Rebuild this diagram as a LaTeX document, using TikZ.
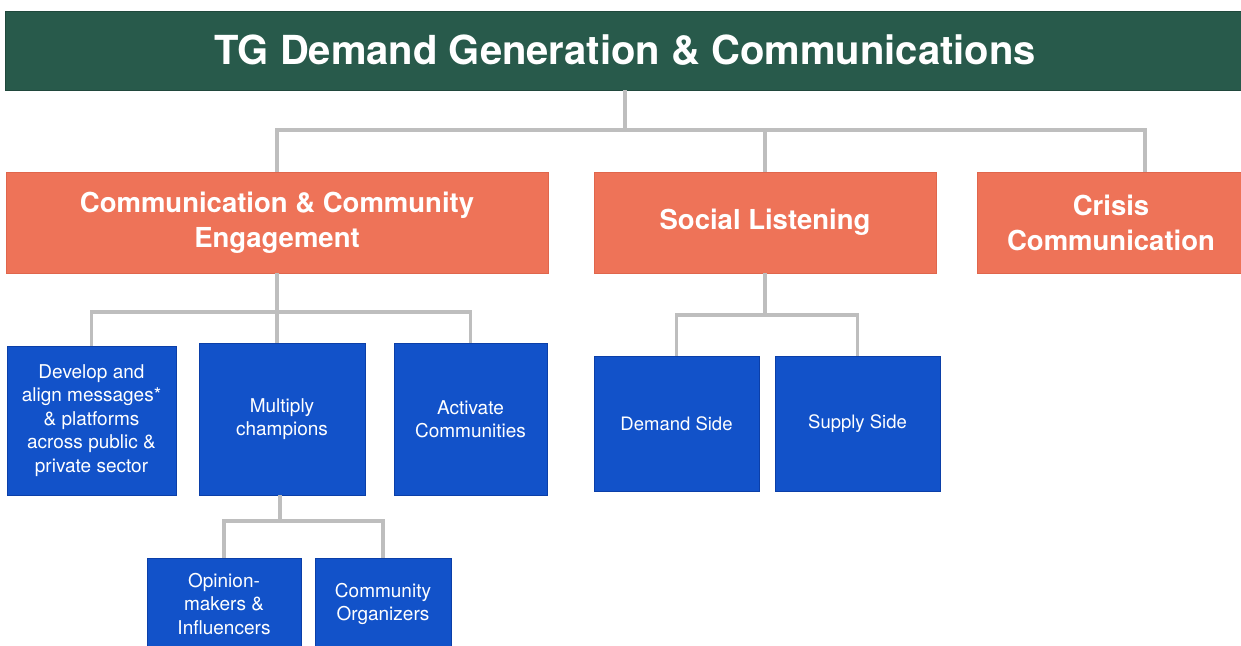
\documentclass[tikz,border=0pt]{standalone}
\usepackage{fontspec}
\setmainfont{TeX Gyre Heros}
\definecolor{dkgreen}{HTML}{285A4B}
\definecolor{salmon}{HTML}{EE7358}
\definecolor{salmonedge}{HTML}{E0664C}
\definecolor{boxblue}{HTML}{1252C9}
\definecolor{blueedge}{HTML}{0B3FA8}
\definecolor{conngray}{HTML}{BEBEBE}
\tikzset{
  base/.style={inner sep=0pt, outer sep=0pt, align=center, text=white},
  topbar/.style={base, fill=dkgreen, draw=dkgreen!80!black, line width=0.8pt,
    font=\fontsize{40}{44}\selectfont\bfseries},
  orangebox/.style={base, fill=salmon, draw=salmonedge, line width=0.8pt,
    font=\fontsize{27.5}{35}\selectfont\bfseries},
  bluebox/.style={base, fill=boxblue, draw=blueedge, line width=0.8pt,
    font=\fontsize{19}{23.5}\selectfont},
  conn/.style={draw=conngray, line width=3.5pt}
}
\begin{document}
\begin{tikzpicture}[x=1pt,y=-1pt]
\useasboundingbox (0,0) rectangle (1241,645);
\clip (0,0) rectangle (1241,645);
\fill[white] (0,0) rectangle (1241,645);

% level 0
\node[topbar, minimum width=1240, minimum height=79] (top) at (625,50.5)
  {TG Demand Generation \& Communications};

% level 1
\node[orangebox, minimum width=542, minimum height=101] (cce) at (277,222.5)
  {Communication \& Community\\Engagement};
\node[orangebox, minimum width=342, minimum height=101] (sl) at (765,222.5)
  {Social Listening};
\node[orangebox, minimum width=268, minimum height=101] (crisis) at (1111,222.5)
  {Crisis\\Communication};
\coordinate (crisisTop) at (1145,172);
\coordinate (bus1) at (625,130);

% level 2
\node[bluebox, minimum width=169, minimum height=149] (develop) at (91.5,420.5)
  {Develop and\\align messages*\\\& platforms\\across public \&\\private sector};
\node[bluebox, minimum width=166, minimum height=152] (multiply) at (282,419)
  {Multiply\\champions};
\node[bluebox, minimum width=153, minimum height=152] (activate) at (470.5,419)
  {Activate\\Communities};
\node[bluebox, minimum width=165, minimum height=135, font=\fontsize{18.5}{23}\selectfont] (demand) at (676.5,423.5)
  {Demand Side};
\node[bluebox, minimum width=165, minimum height=135, font=\fontsize{18.5}{23}\selectfont] (supply) at (857.5,423.5)
  {Supply Side};
\coordinate (bus2) at (277,312);
\coordinate (bus3) at (765,315);

% level 3
\node[bluebox, minimum width=154, minimum height=92] (opinion) at (224,604)
  {Opinion-\\makers \&\\Influencers};
\node[bluebox, minimum width=136, minimum height=92] (organizers) at (383,604)
  {Community\\Organizers};
\coordinate (bus4) at (280,521);

% connectors
\draw[conn] (top.south -| bus1) -- (bus1);
\draw[conn] (cce.north) |- (crisisTop |- bus1) -- (crisisTop);
\draw[conn] (sl.north) -- (sl.north |- bus1);

\draw[conn] (cce.south) -- (multiply.north -| cce.south);
\draw[conn] (develop.north) |- (activate.north |- bus2) -- (activate.north);

\draw[conn] (sl.south) -- (bus3);
\draw[conn] (demand.north) |- (supply.north |- bus3) -- (supply.north);

\draw[conn] (multiply.south -| bus4) -- (bus4);
\draw[conn] (opinion.north) |- (organizers.north |- bus4) -- (organizers.north);
\end{tikzpicture}
\end{document}
